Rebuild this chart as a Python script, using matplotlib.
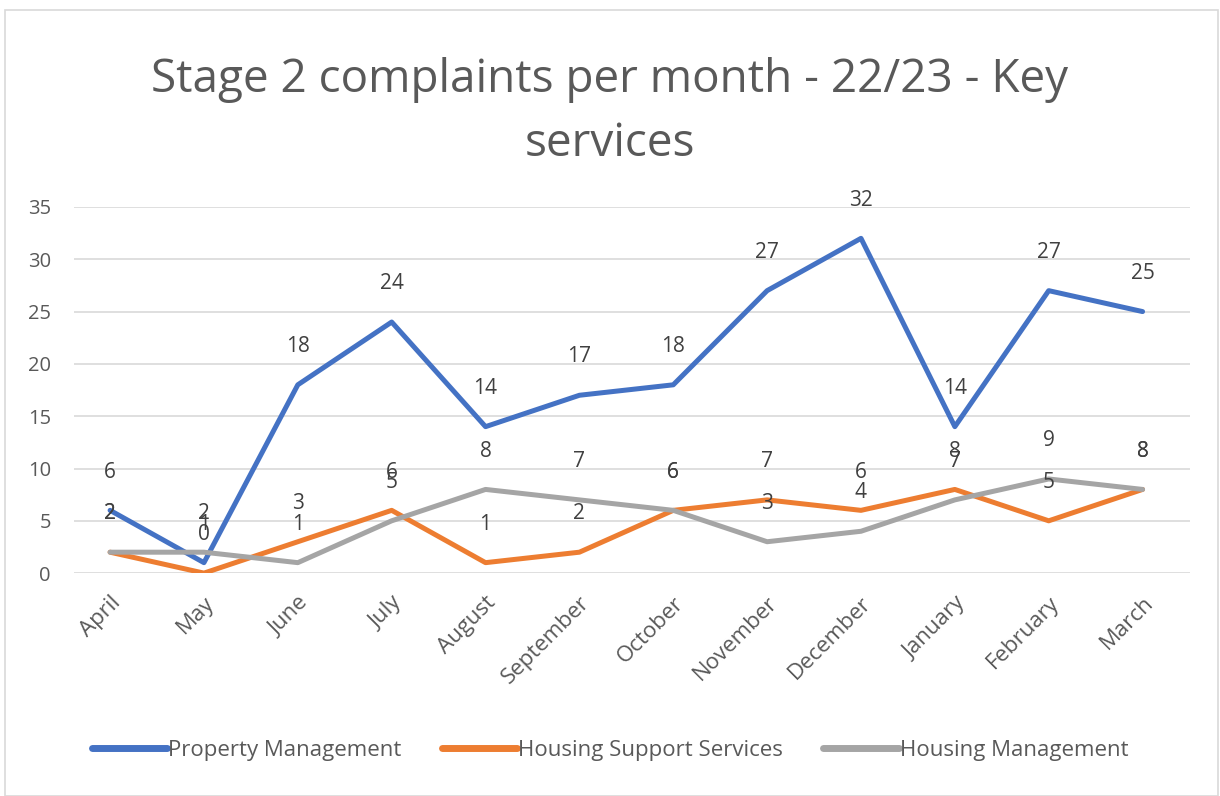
import matplotlib
matplotlib.use("Agg")
import matplotlib.pyplot as plt
from matplotlib.patches import Rectangle

months = ["April", "May", "June", "July", "August", "September", "October",
          "November", "December", "January", "February", "March"]
property_mgmt = [6, 1, 18, 24, 14, 17, 18, 27, 32, 14, 27, 25]
housing_support = [2, 0, 3, 6, 1, 2, 6, 7, 6, 8, 5, 8]
housing_mgmt = [2, 2, 1, 5, 8, 7, 6, 3, 4, 7, 9, 8]
series_names = ["Property Management", "Housing Support Services", "Housing Management"]
colors = ["#4472C4", "#ED7D31", "#A5A5A5"]
yticks = [0, 5, 10, 15, 20, 25, 30, 35]

plt.rcParams["font.family"] = ["Open Sans", "DejaVu Sans"]
txt = "#595959"

fig = plt.figure(figsize=(12.2, 7.96), dpi=100)
fig.patches.append(Rectangle((0.004, 0.0), 0.994, 0.988, transform=fig.transFigure,
                             fill=False, edgecolor="#D9D9D9", linewidth=1.2))
ax = fig.add_axes([0.061, 0.280, 0.914, 0.460])

x = list(range(len(months)))
for vals, name, c in zip([property_mgmt, housing_support, housing_mgmt], series_names, colors):
    ax.plot(x, vals, color=c, linewidth=3.6, label=name, solid_capstyle="round",
            solid_joinstyle="round", zorder=3)
    for xi, v in zip(x, vals):
        ax.annotate(str(v), (xi, v), xytext=(0, 20), textcoords="offset points",
                    ha="center", va="bottom", fontsize=15, color="#404040", zorder=4)

ax.set_xlim(-0.38, 11.5)
ax.set_ylim(0, 35)
ax.set_yticks(yticks)
ax.set_xticks(x)
ax.set_xticklabels(months, rotation=45, ha="right", rotation_mode="anchor",
                   fontsize=16, color=txt)
ax.tick_params(axis="y", labelsize=14.5, labelcolor=txt, length=0, pad=17)
ax.tick_params(axis="x", length=0, pad=14)
ax.grid(axis="y", color="#D9D9D9", linewidth=1.2)
ax.set_axisbelow(True)
for s in ax.spines.values():
    s.set_visible(False)

fig.text(0.5, 0.928, "Stage 2 complaints per month - 22/23 - Key\nservices",
         ha="center", va="top", fontsize=33, color=txt, linespacing=1.5)

leg = fig.legend(loc="center", bbox_to_anchor=(0.5, 0.057), ncol=3, frameon=False,
                 fontsize=16, labelcolor=txt, handlelength=3.4, handletextpad=0.05,
                 columnspacing=1.8)
for h in leg.get_lines():
    h.set_linewidth(5)

fig.savefig("out.png", dpi=100)
